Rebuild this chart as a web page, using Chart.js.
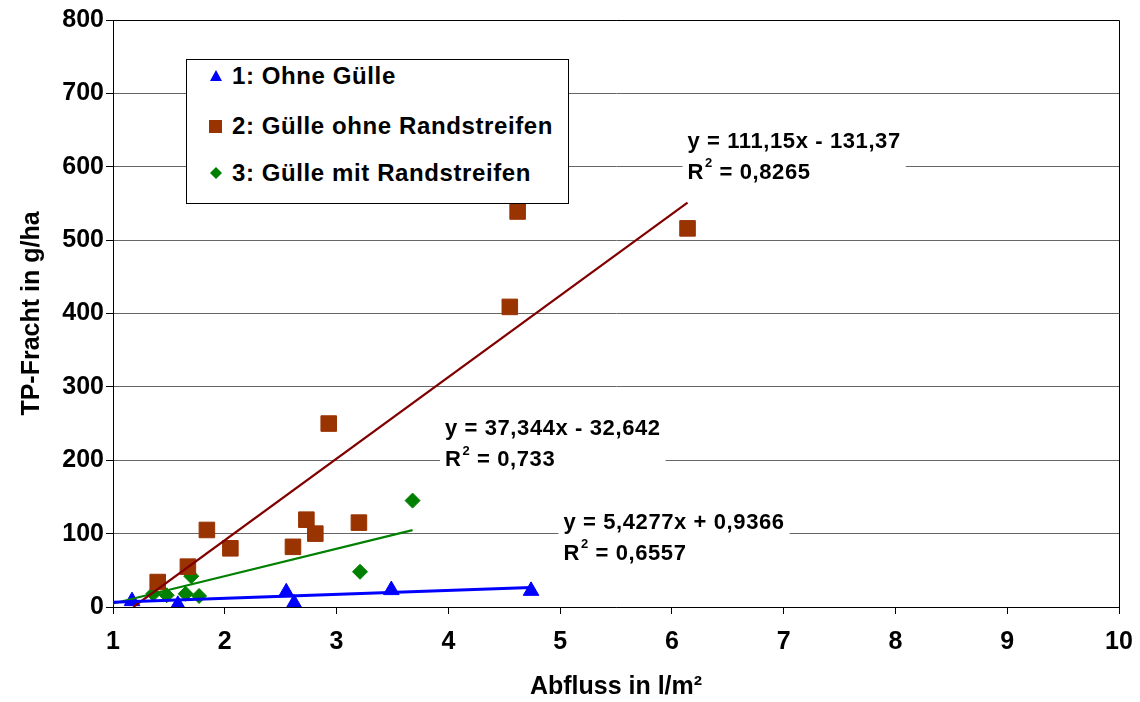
<!DOCTYPE html>
<html>
<head>
<meta charset="utf-8">
<script src="https://cdn.jsdelivr.net/npm/chart.js@4.4.1/dist/chart.umd.min.js"></script>
<style>
  html, body { margin: 0; padding: 0; background: #fff; }
  #wrap { position: relative; width: 1140px; height: 702px; }
  #legend {
    position: absolute; left: 186px; top: 59px; width: 381px; height: 143px;
    border: 1px solid #000; background: #fff;
    font: bold 24px 'Liberation Sans', Arial, sans-serif; letter-spacing: 0.6px; color: #000;
  }
  .item { position: absolute; left: 0; height: 30px; line-height: 30px; white-space: nowrap; }
  .item svg { position: absolute; left: 22px; top: 8px; }
  .item span { position: absolute; left: 45px; }
</style>
</head>
<body>
<div id="wrap">
  <canvas id="chart" width="1140" height="702"></canvas>
  <div id="legend"></div>
</div>
<script>
// Abfluss (x) vs. TP-Fracht (y)
const seriesNames = ['1: Ohne Gülle', '2: Gülle ohne Randstreifen', '3: Gülle mit Randstreifen'];

const ohneX = [1.17, 1.58, 2.55, 2.62, 3.49, 4.74];
const ohneY = [8, 3, 20, 5, 23, 22];

const ohneRandX = [1.40, 1.67, 1.84, 2.05, 2.61, 2.73, 2.81, 2.93, 3.20, 4.55, 4.62, 6.14];
const ohneRandY = [34, 55, 105, 80, 82, 119, 100, 250, 115, 409, 539, 516];

const mitRandX = [1.36, 1.48, 1.65, 1.70, 1.77, 3.21, 3.68];
const mitRandY = [18, 16, 18, 42, 15, 48, 145];

// Excel trendlines (order: 1, 2, 3)
const trendSlope = [5.4277, 111.15, 37.344];
const trendIntercept = [0.9366, -131.37, -32.642];
const trendR2 = ['0,6557', '0,8265', '0,733'];

// where each equation label sits (data units, left edge / first line)
const labelX = [5.03, 6.14, 3.97];
const labelY = [115, 634, 242];

const xMin = 1, xMax = 10, xStep = 1;
const yMin = 0, yMax = 800, yStep = 100;

const colors = ['#0000ff', '#993300', '#008000'];
const lineColors = ['#0000ff', '#800000', '#008000'];
const FONT = "'Liberation Sans', Arial, sans-serif";

const toPoints = (xs, ys) => xs.map((x, i) => ({ x, y: ys[i] }));
const allX = [ohneX, ohneRandX, mitRandX];

function trendPoints(i) {
  const m = trendSlope[i], b = trendIntercept[i];
  let x0 = xMin;
  if (m * x0 + b < yMin) x0 = (yMin - b) / m;
  const x1 = Math.max(...allX[i]);
  return [{ x: x0, y: m * x0 + b }, { x: x1, y: m * x1 + b }];
}

const fmt = v => String(v).replace('.', ',');

// equation labels + plot frame
const extrasPlugin = {
  id: 'extras',
  beforeDatasetsDraw(chart) {
    const { ctx, chartArea: a } = chart;
    ctx.save();
    ctx.strokeStyle = '#000';
    ctx.lineWidth = 1;
    ctx.beginPath();
    ctx.moveTo(a.left, a.top + 0.5);
    ctx.lineTo(a.right + 0.5, a.top + 0.5);
    ctx.lineTo(a.right + 0.5, a.bottom);
    ctx.stroke();
    ctx.restore();
  },
  afterDatasetsDraw(chart) {
    const { ctx } = chart;
    const xs = chart.scales.x, ys = chart.scales.y;
    ctx.save();
    for (let i = 0; i < trendSlope.length; i++) {
      const b = trendIntercept[i];
      const line1 = 'y = ' + fmt(trendSlope[i]) + 'x ' + (b < 0 ? '-' : '+') + ' ' + fmt(Math.abs(b));
      const tx = xs.getPixelForValue(labelX[i]);
      const y1 = ys.getPixelForValue(labelY[i]);
      const y2 = y1 + 31;
      ctx.font = 'bold 22px ' + FONT;
      ctx.letterSpacing = '0.6px';
      const w = ctx.measureText(line1).width;
      ctx.fillStyle = '#fff';
      ctx.fillRect(tx - 5, y1 - 15, w + 10, 60);
      ctx.fillStyle = '#000';
      ctx.textBaseline = 'middle';
      ctx.textAlign = 'left';
      ctx.fillText(line1, tx, y1);
      ctx.fillText('R', tx, y2);
      const rw = ctx.measureText('R').width;
      ctx.font = 'bold 13px ' + FONT;
      ctx.fillText('2', tx + rw + 1, y2 - 9);
      const sw = ctx.measureText('2').width;
      ctx.font = 'bold 22px ' + FONT;
      ctx.fillText(' = ' + trendR2[i], tx + rw + sw + 1, y2);
    }
    ctx.restore();
  }
};

const trendSets = [0, 1, 2].map(i => ({
  label: 'Trend ' + (i + 1),
  data: trendPoints(i),
  showLine: true,
  borderColor: lineColors[i],
  borderWidth: i === 0 ? 3 : 2.2,
  pointRadius: 0,
  fill: false
}));

const markerSets = [
  { label: seriesNames[0], data: toPoints(ohneX, ohneY), pointStyle: 'triangle', pointRadius: 9,
    backgroundColor: colors[0], borderColor: colors[0], borderWidth: 1, showLine: false },
  { label: seriesNames[1], data: toPoints(ohneRandX, ohneRandY), pointStyle: 'rect', pointRadius: 11,
    backgroundColor: colors[1], borderColor: colors[1], borderWidth: 1, showLine: false },
  { label: seriesNames[2], data: toPoints(mitRandX, mitRandY), pointStyle: 'rectRot', pointRadius: 7.5,
    backgroundColor: colors[2], borderColor: colors[2], borderWidth: 1, showLine: false }
];

new Chart(document.getElementById('chart'), {
  type: 'scatter',
  data: { datasets: [...trendSets, ...markerSets] },
  options: {
    responsive: false,
    animation: false,
    devicePixelRatio: 1,
    layout: { padding: { left: 0, right: 21, top: 20, bottom: 0 } },
    plugins: { legend: { display: false }, tooltip: { enabled: false } },
    scales: {
      x: {
        type: 'linear', min: xMin, max: xMax,
        afterFit: s => { s.height = 95; s.paddingRight = 0; s.paddingLeft = 0; },
        ticks: { stepSize: xStep, color: '#000', padding: 13, font: { family: FONT, size: 25, weight: 'bold' } },
        grid: { drawOnChartArea: false, tickLength: 7, tickColor: '#000' },
        border: { color: '#000', width: 1 },
        title: { display: true, text: 'Abfluss in l/m²', color: '#000', padding: { top: 0, bottom: 0 },
          font: { family: FONT, size: 25, weight: 'bold' } }
      },
      y: {
        type: 'linear', min: yMin, max: yMax,
        afterFit: s => { s.width = 113; },
        ticks: { stepSize: yStep, color: '#000', padding: 2, font: { family: FONT, size: 25, weight: 'bold' } },
        grid: { color: '#666', tickLength: 7, tickColor: '#000' },
        border: { color: '#000', width: 1 },
        title: { display: true, text: 'TP-Fracht in g/ha', color: '#000', padding: { top: 17, bottom: 0 },
          font: { family: FONT, size: 25, weight: 'bold' } }
      }
    }
  },
  plugins: [extrasPlugin]
});

// legend box (HTML), markers as small svg shapes
const legendMarks = [
  '<svg width="14" height="14"><polygon points="7,1 13,12 1,12" fill="' + colors[0] + '"/></svg>',
  '<svg width="14" height="14"><rect x="0" y="1" width="13" height="13" fill="' + colors[1] + '"/></svg>',
  '<svg width="14" height="14"><polygon points="7,1 13,7 7,13 1,7" fill="' + colors[2] + '"/></svg>'
];
const legendTop = [1, 51, 98];
document.getElementById('legend').innerHTML = seriesNames.map((n, i) =>
  '<div class="item" style="top:' + legendTop[i] + 'px">' + legendMarks[i] + '<span>' + n + '</span></div>'
).join('');
</script>
</body>
</html>
